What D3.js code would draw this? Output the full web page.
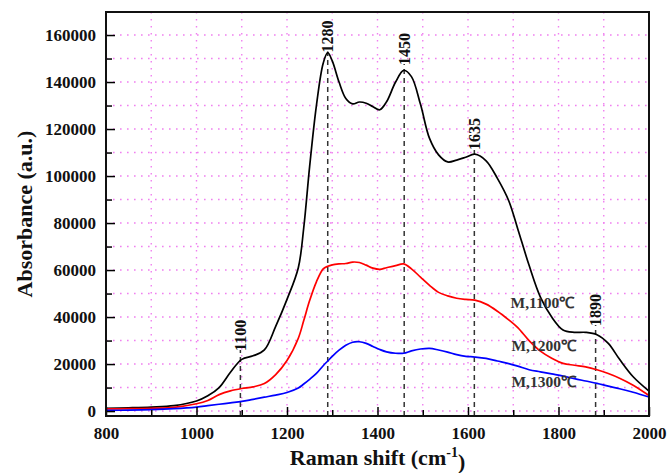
<!DOCTYPE html>
<html lang="en">
<head>
<meta charset="utf-8">
<style>
body {
  margin: 0;
  background: #fff;
}
svg text {
  font-family: "Liberation Serif", "Times New Roman", serif;
}
.grid line {
  stroke: #f080f0;
  stroke-width: 1.4;
  stroke-dasharray: 1.6,5.4;
}
.spectrum {
  fill: none;
  stroke-width: 1.7;
}
.peakline {
  stroke: #333;
  stroke-width: 1.5;
  stroke-dasharray: 5,4;
}
</style>
</head>
<body>
<script src="https://cdn.jsdelivr.net/npm/d3@7"></script>
<script>

// Raman shift (cm-1) sample positions, shared by the three spectra
var shift = [800, 850, 900, 950, 1000, 1025, 1050, 1075, 1100, 1125, 1150, 1175, 1200, 1225, 1237, 1250,
  1265, 1280, 1290, 1300, 1315, 1330, 1345, 1360, 1375, 1390, 1405, 1420, 1440, 1458, 1475, 1495,
  1515, 1535, 1555, 1575, 1595, 1615, 1640, 1665, 1690, 1710, 1735, 1760, 1785, 1810, 1835, 1860,
  1885, 1910, 1935, 1965, 2000];

var m1100 = [1200, 1400, 1700, 2300, 4300, 6500, 10000, 16500, 22000, 23500, 26000, 36000, 47500, 61000, 78000, 104000,
  130000, 148000, 152500, 149000, 140000, 133000, 130700, 131500, 131000, 129500, 128200, 131600, 140000, 145000, 142300, 130500,
  116000, 109000, 106000, 106800, 108000, 109300, 106500, 99000, 89500, 77500, 62000, 48500, 40000, 34500, 33500, 33500,
  32500, 28800, 22000, 14600, 8500];

var m1200 = [900, 1000, 1200, 1600, 3100, 4500, 7000, 8600, 9600, 10300, 11700, 15500, 21500, 31000, 38500, 47000,
  55000, 60500, 61600, 62200, 62600, 62800, 63400, 63200, 62100, 60800, 60300, 61000, 61900, 62600, 60500, 57000,
  53500, 50500, 49000, 48000, 47500, 47200, 45500, 42500, 38800, 35500, 30000, 25500, 22500, 20300, 19500, 18800,
  17600, 16000, 14000, 11000, 6600];

var m1300 = [300, 400, 600, 1000, 1700, 2300, 2900, 3500, 4100, 5000, 5900, 6800, 7900, 9800, 11500, 13500,
  16000, 19300, 21300, 23300, 25900, 28000, 29300, 29500, 28800, 27500, 26200, 25200, 24600, 24600, 25600, 26400,
  26700, 26000, 25100, 24000, 23300, 23000, 22400, 21300, 20200, 19100, 17600, 16700, 15800, 14900, 13800, 12800,
  11800, 10600, 9500, 8000, 6000];

var seriesNames = ["M,1100\u2103", "M,1200\u2103", "M,1300\u2103"];
var seriesColors = ["#000000", "#ff0000", "#0000ff"];
// where each series name is written (data units)
var nameShift = [1694, 1696, 1696];
var nameValue = [43800, 25700, 10200];

// marked bands: text, drawn position, top of dashed line
var peakText = ["1100", "1280", "1450", "1635", "1890"];
var peakShift = [1097, 1290, 1459, 1614, 1882];
var peakTop = [26000, 153000, 147700, 111500, 36600];

var xMajor = [800, 1000, 1200, 1400, 1600, 1800, 2000];
var xMinor = [900, 1100, 1300, 1500, 1700, 1900];
var yMajor = [0, 20000, 40000, 60000, 80000, 100000, 120000, 140000, 160000];
var yMinor = [10000, 30000, 50000, 70000, 90000, 110000, 130000, 150000];

var width = 667,
    height = 473;

var pLeft = 106, pRight = 649, pTop = 12, pBottom = 416;

var x = d3.scaleLinear()
    .domain([800, 2000])
    .range([pLeft, pRight]);

var y = d3.scaleLinear()
    .domain([-2100, 169800])
    .range([pBottom, pTop]);

var svg = d3.select("body").append("svg")
    .attr("width", width)
    .attr("height", height);

// pink dotted grid
var grid = svg.append("g").attr("class", "grid");
grid.selectAll(".gx")
    .data(xMajor.concat(xMinor).filter(function(d) { return d > 800 && d < 2000; }))
    .enter().append("line")
    .attr("x1", function(d) { return x(d); })
    .attr("x2", function(d) { return x(d); })
    .attr("y1", pTop)
    .attr("y2", pBottom);
grid.selectAll(".gy")
    .data(yMajor.concat(yMinor))
    .enter().append("line")
    .attr("x1", pLeft)
    .attr("x2", pRight)
    .attr("y1", function(d) { return y(d); })
    .attr("y2", function(d) { return y(d); });

// dashed band markers
svg.selectAll(".peakline")
    .data(peakShift)
    .enter().append("line")
    .attr("class", "peakline")
    .attr("x1", function(d) { return x(d); })
    .attr("x2", function(d) { return x(d); })
    .attr("y1", pBottom)
    .attr("y2", function(d, i) { return y(peakTop[i]); });

// spectra
var line = d3.line()
    .x(function(d) { return x(d[0]); })
    .y(function(d) { return y(d[1]); })
    .curve(d3.curveCatmullRom.alpha(0.5));

[m1100, m1200, m1300].forEach(function(vals, i) {
    svg.append("path")
        .attr("class", "spectrum")
        .attr("stroke", seriesColors[i])
        .attr("d", line(shift.map(function(s, j) { return [s, vals[j]]; })));
});

// band labels
svg.selectAll(".peaktext")
    .data(peakText)
    .enter().append("text")
    .attr("transform", function(d, i) {
        return "translate(" + x(peakShift[i]) + "," + (y(peakTop[i]) + 1) + ") rotate(-90)";
    })
    .attr("dy", "0.34em")
    .attr("font-size", 16)
    .attr("font-weight", "bold")
    .attr("fill", "#111")
    .text(function(d) { return d; });

// series names
svg.selectAll(".sname")
    .data(seriesNames)
    .enter().append("text")
    .attr("x", function(d, i) { return x(nameShift[i]); })
    .attr("y", function(d, i) { return y(nameValue[i]); })
    .attr("font-size", 15.5)
    .attr("font-weight", "bold")
    .attr("fill", "#333")
    .text(function(d) { return d; });

// axes
function styleAxis(g) {
    g.select(".domain").remove();
    g.selectAll("line").attr("stroke", "#000").attr("stroke-width", 1.5);
    g.selectAll("text")
        .attr("font-size", 17)
        .attr("font-weight", "bold")
        .attr("fill", "#111");
}

svg.append("g")
    .attr("transform", "translate(0," + pBottom + ")")
    .call(d3.axisBottom(x).tickValues(xMajor).tickSize(-9).tickPadding(11).tickFormat(d3.format("d")))
    .call(styleAxis);
svg.append("g")
    .attr("transform", "translate(0," + pBottom + ")")
    .call(d3.axisBottom(x).tickValues(xMinor).tickSize(-6).tickFormat(""))
    .call(styleAxis);
svg.append("g")
    .attr("transform", "translate(" + pLeft + ",0)")
    .call(d3.axisLeft(y).tickValues(yMajor).tickSize(-9).tickPadding(10).tickFormat(d3.format("d")))
    .call(styleAxis);
svg.append("g")
    .attr("transform", "translate(" + pLeft + ",0)")
    .call(d3.axisLeft(y).tickValues(yMinor).tickSize(-6).tickFormat(""))
    .call(styleAxis);

// frame
svg.append("rect")
    .attr("x", pLeft)
    .attr("y", pTop)
    .attr("width", pRight - pLeft)
    .attr("height", pBottom - pTop)
    .attr("fill", "none")
    .attr("stroke", "#111")
    .attr("stroke-width", 2);

// axis titles
var xt = svg.append("text")
    .attr("x", (pLeft + pRight) / 2)
    .attr("y", 465)
    .attr("text-anchor", "middle")
    .attr("font-size", 22)
    .attr("font-weight", "bold")
    .attr("fill", "#111");
xt.append("tspan").text("Raman shift (cm");
xt.append("tspan").attr("dy", "-0.55em").attr("font-size", 14).text("-1");
xt.append("tspan").attr("dy", "0.55em").text(")");

svg.append("text")
    .attr("transform", "translate(24," + ((pTop + pBottom) / 2) + ") rotate(-90)")
    .attr("text-anchor", "middle")
    .attr("dy", "0.35em")
    .attr("font-size", 22)
    .attr("font-weight", "bold")
    .attr("fill", "#111")
    .text("Absorbance (a.u.)");

</script>
</body>
</html>
